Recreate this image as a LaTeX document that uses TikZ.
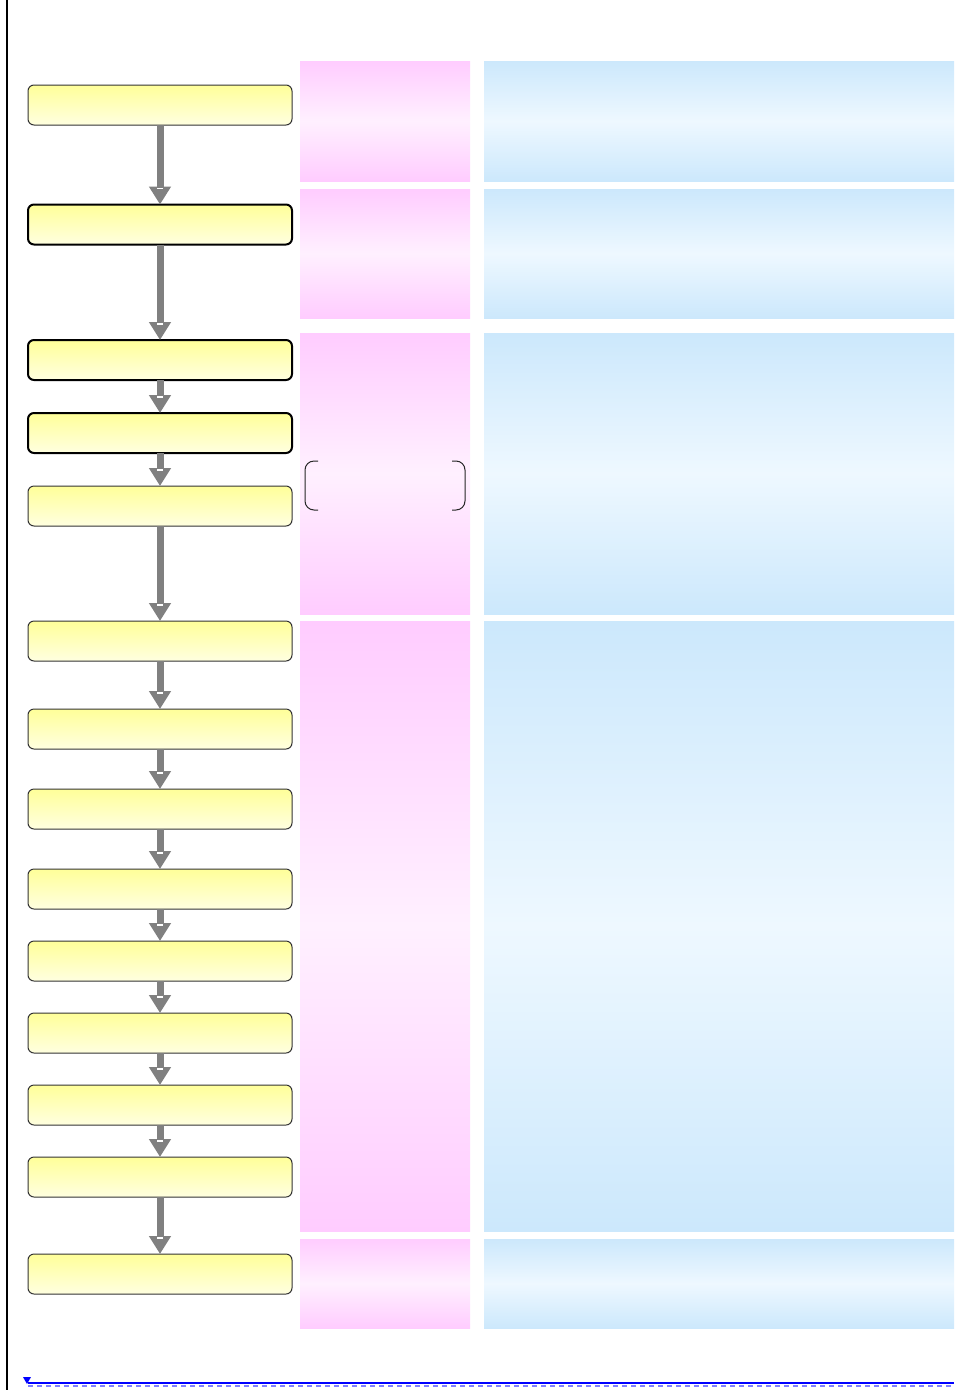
\documentclass[tikz,border=0pt]{standalone}
\usetikzlibrary{arrows.meta,calc}
\definecolor{pinkS}{RGB}{255,204,255}
\definecolor{pinkL}{RGB}{255,240,255}
\definecolor{blueS}{RGB}{204,232,252}
\definecolor{blueL}{RGB}{238,248,255}
\definecolor{yelT}{RGB}{255,255,153}
\definecolor{yelB}{RGB}{255,255,224}
\definecolor{arrgray}{RGB}{128,128,128}
\tikzset{
  stepbox/.style={draw=black!80, line width=1pt, rounded corners=6pt,
    minimum width=264pt, minimum height=40pt, inner sep=0pt, outer sep=0pt,
    top color=yelT, bottom color=yelB},
  boldbox/.style={stepbox, draw=black, line width=2pt},
  pinkpanel/.style={rectangle, inner sep=0pt, outer sep=0pt, minimum width=170pt,
    shading=axis, top color=pinkS, bottom color=pinkS, middle color=pinkL},
  bluepanel/.style={rectangle, inner sep=0pt, outer sep=0pt, minimum width=470pt,
    shading=axis, top color=blueS, bottom color=blueS, middle color=blueL},
  flow/.style={draw=arrgray, line width=7pt, -{Triangle[width=21pt,length=18pt]}, shorten >=0pt},
}
\newcommand{\flowarrow}[2]{%
  \draw[flow] (#1.south) -- (#2.north);
  \draw[white, line width=1.5pt] ($(#2.north)+(-3,-16)$) -- ($(#2.north)+(3,-16)$);
}
\begin{document}
\begin{tikzpicture}[x=1pt,y=-1pt]
\useasboundingbox (0,0) rectangle (954,1390);
\fill[white] (0,0) rectangle (954,1390);

% left rule
\coordinate (lt) at (7,0);
\coordinate (lb) at (7,1390);
\draw[line width=2.5pt] (lt) -- (lb);

% panels
\node[pinkpanel, minimum height=120pt] (pA) at (385,121) {};
\node[bluepanel, minimum height=120pt] (bA) at (719,121) {};
\node[pinkpanel, minimum height=129pt] (pB) at (385,253.5) {};
\node[bluepanel, minimum height=129pt] (bB) at (719,253.5) {};
\node[pinkpanel, minimum height=281pt] (pC) at (385,473.5) {};
\node[bluepanel, minimum height=281pt] (bC) at (719,473.5) {};
\node[pinkpanel, minimum height=610pt] (pD) at (385,926) {};
\node[bluepanel, minimum height=610pt] (bD) at (719,926) {};
\node[pinkpanel, minimum height=89pt] (pE) at (385,1283.5) {};
\node[bluepanel, minimum height=89pt] (bE) at (719,1283.5) {};

% bracket
\draw[black!85, line width=1pt, rounded corners=9pt] (318,461) -- (305,461) -- (305,510) -- (318,510);
\draw[black!85, line width=1pt, rounded corners=9pt] (452,461) -- (465,461) -- (465,510) -- (452,510);

% step boxes
\node[stepbox] (s1) at (160,105) {};
\node[boldbox] (s2) at (160,224.5) {};
\node[boldbox] (s3) at (160,360) {};
\node[boldbox] (s4) at (160,433) {};
\node[stepbox] (s5) at (160,506) {};
\node[stepbox] (s6) at (160,641) {};
\node[stepbox] (s7) at (160,729) {};
\node[stepbox] (s8) at (160,809) {};
\node[stepbox] (s9) at (160,889) {};
\node[stepbox] (s10) at (160,961) {};
\node[stepbox] (s11) at (160,1033) {};
\node[stepbox] (s12) at (160,1105) {};
\node[stepbox] (s13) at (160,1177) {};
\node[stepbox] (s14) at (160,1274) {};

\flowarrow{s1}{s2}
\flowarrow{s2}{s3}
\flowarrow{s3}{s4}
\flowarrow{s4}{s5}
\flowarrow{s5}{s6}
\flowarrow{s6}{s7}
\flowarrow{s7}{s8}
\flowarrow{s8}{s9}
\flowarrow{s9}{s10}
\flowarrow{s10}{s11}
\flowarrow{s11}{s12}
\flowarrow{s12}{s13}
\flowarrow{s13}{s14}

% bottom marker line
\coordinate (bl) at (28,1383);
\coordinate (br) at (954,1383);
\coordinate (dl) at (28,1386);
\coordinate (dr) at (954,1386);
\draw[blue!50, line width=2pt, dash pattern=on 5pt off 4pt] (dl) -- (dr);
\draw[blue, line width=1.5pt] (bl) -- (br);
\fill[blue] (23,1377) -- (31,1377) -- (27,1384) -- cycle;
\end{tikzpicture}
\end{document}
